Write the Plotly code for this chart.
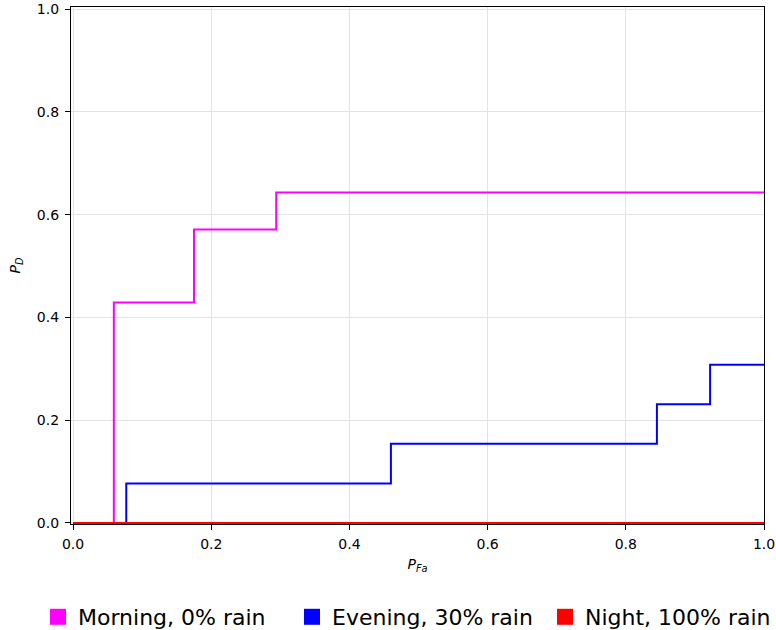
import plotly.graph_objects as go

# Data (step curves, P_D vs P_Fa)
morning_x = [0.0, 0.059, 0.175, 0.294, 1.0]
morning_y = [0.0, 0.429, 0.571, 0.643, 0.643]

evening_x = [0.0, 0.077, 0.460, 0.845, 0.922, 1.0]
evening_y = [0.0, 0.077, 0.154, 0.231, 0.308, 0.308]

night_x = [0.0, 1.0]
night_y = [0.0, 0.0]

series_names = ["Morning, 0% rain", "Evening, 30% rain", "Night, 100% rain"]
series_colors = ["#ff00ff", "#0000ff", "#ff0000"]
series_x = [morning_x, evening_x, night_x]
series_y = [morning_y, evening_y, night_y]

tick_vals = [0.0, 0.2, 0.4, 0.6, 0.8, 1.0]
tick_text = ["0.0", "0.2", "0.4", "0.6", "0.8", "1.0"]

W, H = 776, 630
legend_ids = ["legend", "legend2", "legend3"]
legend_left_px = [38, 292, 545]

fig = go.Figure()
for name, color, xs, ys in zip(series_names, series_colors, series_x, series_y):
    fig.add_trace(go.Scatter(x=xs, y=ys, mode="lines", line=dict(color=color, width=2, shape="hv"),
                             name=name, showlegend=False))
for name, color, lid in zip(series_names, series_colors, legend_ids):
    fig.add_trace(go.Scatter(x=[None], y=[None], mode="markers",
                             marker=dict(symbol="square", size=16, color=color), name=name,
                             showlegend=True, legend=lid))

font_family = "DejaVu Sans"
axis_common = dict(
    showline=True, linecolor="black", linewidth=1.3, mirror=True,
    ticks="outside", ticklen=5, tickwidth=1.2, tickcolor="black",
    showgrid=True, gridcolor="#e3e3e3", gridwidth=1, zeroline=False,
    tickvals=tick_vals, ticktext=tick_text, automargin=False,
    ticklabeloverflow="allow",
    tickfont=dict(family=font_family, size=14, color="black"),
)

legend_common = dict(orientation="h", xref="container", yref="container", y=1 - 617 / H,
                     xanchor="left", yanchor="middle", font=dict(family=font_family, size=22, color="black"),
                     itemsizing="trace", bgcolor="rgba(0,0,0,0)")

layout_legends = {}
for lid, px in zip(legend_ids, legend_left_px):
    layout_legends[lid] = dict(x=px / W, **legend_common)

fig.update_layout(
    width=W, height=H,
    margin=dict(l=71, r=12, t=7, b=106),
    paper_bgcolor="white", plot_bgcolor="white",
    font=dict(family=font_family, color="black"),
    xaxis=dict(range=[-0.003, 1.0], title=dict(text="<i>P</i><sub><i>Fa</i></sub>", font=dict(size=14), standoff=8),
               ticklabelstandoff=2, **axis_common),
    yaxis=dict(range=[-0.002, 1.004], title=dict(text="<i>P</i><sub><i>D</i></sub>", font=dict(size=14), standoff=12),
               ticklabelstandoff=3, **axis_common),
    **layout_legends,
)

fig.write_html("out.html", config={"displayModeBar": False},
               post_script="document.body.style.margin='0px';")
